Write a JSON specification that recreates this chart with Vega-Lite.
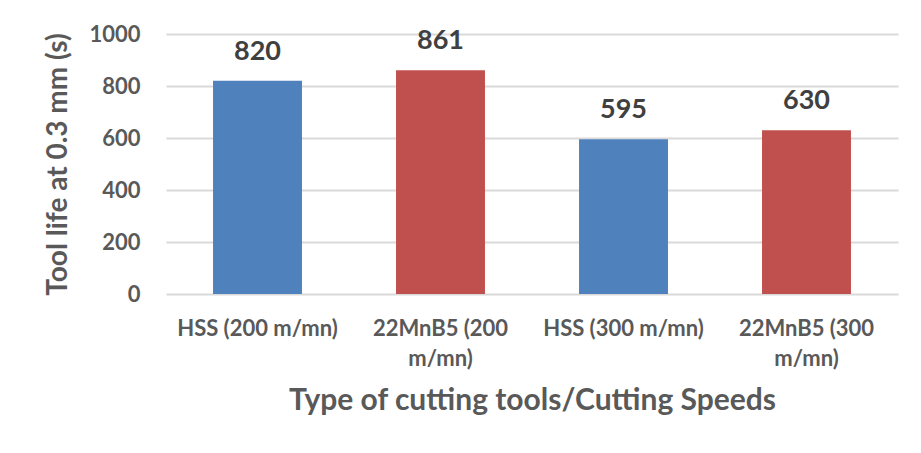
{
  "$schema": "https://vega.github.io/schema/vega-lite/v6.json",
  "autosize": "none",
  "width": 732,
  "height": 260,
  "padding": {"left": 166, "top": 34, "right": 23, "bottom": 159},
  "background": "white",
  "config": {
    "view": {"stroke": null},
    "font": "Lato"
  },
  "data": {
    "values": [
      {"tool": "HSS (200 m/mn)", "life": 820, "type": "HSS"},
      {"tool": "22MnB5 (200 m/mn)", "life": 861, "type": "22MnB5"},
      {"tool": "HSS (300 m/mn)", "life": 595, "type": "HSS"},
      {"tool": "22MnB5 (300 m/mn)", "life": 630, "type": "22MnB5"}
    ]
  },
  "encoding": {
    "x": {
      "field": "tool",
      "type": "nominal",
      "sort": null,
      "scale": {"paddingInner": 0, "paddingOuter": 0},
      "axis": {
        "title": "Type of cutting tools/Cutting Speeds",
        "titleFont": "Lato",
        "titleFontSize": 30,
        "titleFontWeight": "bold",
        "titleColor": "#595959",
        "titlePadding": 16,
        "labelAngle": 0,
        "labelFont": "Lato",
        "labelFontSize": 22,
        "labelFontWeight": "bold",
        "labelColor": "#595959",
        "labelPadding": 24,
        "labelLineHeight": 30,
        "labelExpr": "indexof(datum.label, '22MnB5') == 0 ? [slice(datum.label, 0, 11), slice(datum.label, 12)] : datum.label",
        "ticks": false,
        "domain": false
      }
    },
    "y": {
      "field": "life",
      "type": "quantitative",
      "scale": {"domain": [0, 1000]},
      "axis": {
        "values": [0, 200, 400, 600, 800, 1000],
        "format": "d",
        "title": "Tool life at 0.3 mm (s)",
        "titleFont": "Lato",
        "titleFontSize": 28,
        "titleFontWeight": "bold",
        "titleColor": "#595959",
        "titlePadding": 16,
        "labelFont": "Lato",
        "labelFontSize": 22,
        "labelFontWeight": "bold",
        "labelColor": "#595959",
        "labelPadding": 26,
        "ticks": false,
        "domain": false,
        "grid": true,
        "gridColor": "#d9d9d9",
        "gridWidth": 2
      }
    }
  },
  "layer": [
    {
      "mark": {"type": "bar", "width": {"band": 0.486}},
      "encoding": {
        "color": {
          "field": "type",
          "type": "nominal",
          "scale": {"domain": ["HSS", "22MnB5"], "range": ["#4F81BD", "#C0504D"]},
          "legend": null
        }
      }
    },
    {
      "mark": {"type": "text", "dy": -29, "font": "Lato", "fontSize": 27, "fontWeight": "bold", "color": "#404040"},
      "encoding": {
        "text": {"field": "life", "type": "quantitative"}
      }
    }
  ]
}
